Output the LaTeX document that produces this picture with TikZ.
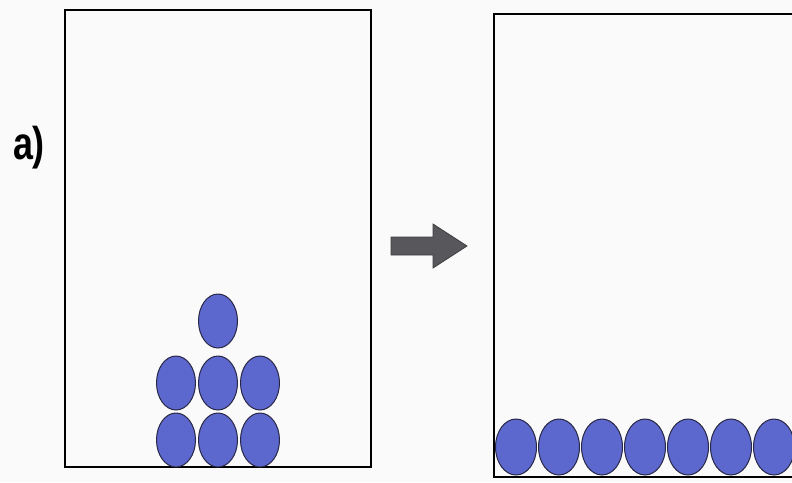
\documentclass[tikz,border=0pt]{standalone}
\usepackage{fontspec}
\setmainfont{Liberation Sans}
\usetikzlibrary{shapes.geometric}
\definecolor{ballblue}{RGB}{92,104,206}
\definecolor{balledge}{RGB}{40,40,70}
\definecolor{arrowgrey}{RGB}{88,88,92}
\definecolor{paper}{RGB}{250,250,250}
\tikzset{
  ball/.style={ellipse, draw=balledge, fill=ballblue, line width=1pt, inner sep=0pt},
  lball/.style={ball, minimum width=39pt, minimum height=54pt},
  rball/.style={ball, minimum width=41pt, minimum height=56pt},
  boxframe/.style={draw=black, line width=2pt},
  bigarrow/.style={fill=arrowgrey, draw=arrowgrey!70!black, line width=0.8pt}
}
\begin{document}
\begin{tikzpicture}[x=1pt,y=-1pt]
\useasboundingbox (0,0) rectangle (792,482);
\fill[paper] (0,0) rectangle (792,482);
\clip (0,0) rectangle (792,482);
% label
\node[font=\bfseries\fontsize{46}{46}\selectfont, xscale=0.78, inner sep=0pt] (lab) at (29,148) {a)};
% left box
\draw[boxframe] (65,10) rectangle (371,467);
\node[lball] (b1) at (176,440) {};
\node[lball] (b2) at (218,440) {};
\node[lball] (b3) at (260,440) {};
\node[lball] (b4) at (176,383) {};
\node[lball] (b5) at (218,383) {};
\node[lball] (b6) at (260,383) {};
\node[lball] (b7) at (218,321) {};
% arrow
\filldraw[bigarrow] (391,237) -- (433,237) -- (433,224) -- (467,246) -- (433,268) -- (433,255) -- (391,255) -- cycle;
% right box
\draw[boxframe] (494,14) rectangle (810,477);
\foreach \i/\x in {1/516,2/559,3/602,4/645,5/688,6/731,7/774}
  \node[rball] (r\i) at (\x,447) {};
\end{tikzpicture}
\end{document}
